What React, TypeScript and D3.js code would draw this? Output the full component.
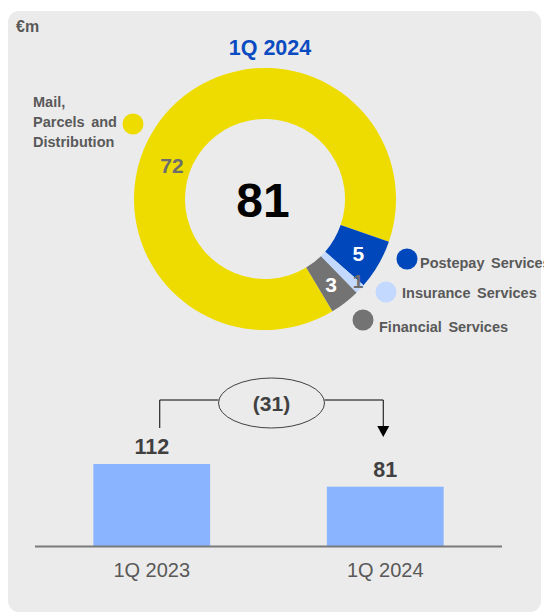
import React from 'react'
import { pie, arc, scaleBand, scaleLinear } from 'd3'

const sliceNames = ['Mail, Parcels and Distribution', 'Postepay Services', 'Insurance Services', 'Financial Services']
const sliceValues = [72, 5, 1, 3]
const sliceColors = ['#eedc00', '#0047bb', '#c3d9ff', '#737373']
const sliceLabelColors = ['#6d6d6d', '#ffffff', '#6d6d6d', '#ffffff']
const donutTotal = 81
const donutTitle = '1Q 2024'

const barCategories = ['1Q 2023', '1Q 2024']
const barValues = [112, 81]
const deltaLabel = '(31)'

const deg = Math.PI / 180
const CX = 265
const CY = 199
const R_OUT = 131
const R_IN = 80

const FONT = '"Liberation Sans", Arial, sans-serif'
const TEXT = '#595959'

// legend spots, one per slice
const legendPos = [
  { dx: 133, dy: 124, tx: 33, ty: 107, anchor: 'start' },
  { dx: 407, dy: 259, tx: 420, ty: 268, anchor: 'start' },
  { dx: 386, dy: 292, tx: 402, ty: 298, anchor: 'start' },
  { dx: 363, dy: 320, tx: 379, ty: 332, anchor: 'start' }
]

export default function App() {
  const start = 149 * deg
  const slices = pie<number>().sort(null).value((d) => d).startAngle(start).endAngle(start + 2 * Math.PI)(sliceValues)
  const ring = arc<any>().innerRadius(R_IN).outerRadius(R_OUT)
  const labelArc = arc<any>().innerRadius(108).outerRadius(108)

  const x = scaleBand().domain(barCategories).range([35, 502]).paddingInner(0.5).paddingOuter(0.25)
  const y = scaleLinear().domain([0, 112]).range([546, 464])
  const bw = x.bandwidth()
  const x0 = x(barCategories[0])! + bw / 2
  const x1 = x(barCategories[1])! + bw / 2
  const bracketY = 400
  const ellCx = (x0 + x1) / 2 + 3

  return (
    <svg width={544} height={614} style={{ position: 'absolute', left: 0, top: 0 }} fontFamily={FONT}>
      <rect x={8} y={11} width={533} height={601} rx={11} fill="#ebebeb" />
      <text x={16} y={32} fontSize={16} fontWeight="bold" fill={TEXT}>€m</text>
      <text x={270} y={55} fontSize={21.5} fontWeight="bold" fill="#0a4bc2" textAnchor="middle">{donutTitle}</text>

      <g transform={`translate(${CX},${CY})`}>
        {slices.map((s, i) => (
          <path key={i} d={ring(s) || ''} fill={sliceColors[i]} />
        ))}
        {slices.map((s, i) => {
          let [lx, ly] = labelArc.centroid(s)
          if (i === 0) {
            const a = 290 * deg
            lx = 99 * Math.sin(a)
            ly = -99 * Math.cos(a)
          }
          if (i === 2) {
            const a = (s.startAngle + s.endAngle) / 2 - 2 * deg
            lx = 124 * Math.sin(a)
            ly = -124 * Math.cos(a)
          }
          return (
            <text key={i} x={lx} y={ly} dy="0.36em" textAnchor="middle" fontSize={i === 2 ? 19 : 21} fontWeight="bold" fill={sliceLabelColors[i]}>
              {sliceValues[i]}
            </text>
          )
        })}
        <text x={-2} y={1} dy="0.36em" textAnchor="middle" fontSize={48} fontWeight="bold" fill="#000">{donutTotal}</text>
      </g>

      {sliceNames.map((name, i) => {
        const p = legendPos[i]
        const lines = i === 0 ? ['Mail,', 'Parcels and', 'Distribution'] : [name]
        return (
          <g key={name}>
            <circle cx={p.dx} cy={p.dy} r={10.5} fill={sliceColors[i]} />
            {lines.map((l, j) => (
              <text key={j} x={p.tx} y={p.ty + j * 20} fontSize={14.5} fontWeight="bold" fill={TEXT} wordSpacing={2.5}>{l}</text>
            ))}
          </g>
        )
      })}

      {/* bars */}
      {barValues.map((v, i) => (
        <g key={i}>
          <rect x={x(barCategories[i])} y={y(v)} width={bw} height={y(0) - y(v)} fill="#8ab4ff" />
          <text x={x(barCategories[i])! + bw / 2} y={y(v) - 10} textAnchor="middle" fontSize={21.5} fontWeight="bold" fill="#404040">{v}</text>
          <text x={x(barCategories[i])! + bw / 2} y={577} textAnchor="middle" fontSize={20} fill={TEXT}>{barCategories[i]}</text>
        </g>
      ))}
      <line x1={35} x2={502} y1={546.5} y2={546.5} stroke="#7a7a7a" strokeWidth={2} />

      {/* change bracket */}
      <path d={`M${x0 + 8},${y(barValues[0]) - 36} V${bracketY} H${ellCx - 53}`} fill="none" stroke="#000" strokeWidth={1} />
      <path d={`M${ellCx + 53},${bracketY} H${x1 - 2} V${427}`} fill="none" stroke="#000" strokeWidth={1} />
      <path d={`M${x1 - 8},${426} L${x1 + 4},${426} L${x1 - 2},${437} Z`} fill="#000" />
      <ellipse cx={ellCx} cy={403} rx={53} ry={25} fill="#ebebeb" stroke="#404040" strokeWidth={1} />
      <text x={ellCx} y={403} dy="0.36em" textAnchor="middle" fontSize={21} fontWeight="bold" fill="#404040">{deltaLabel}</text>
    </svg>
  )
}
